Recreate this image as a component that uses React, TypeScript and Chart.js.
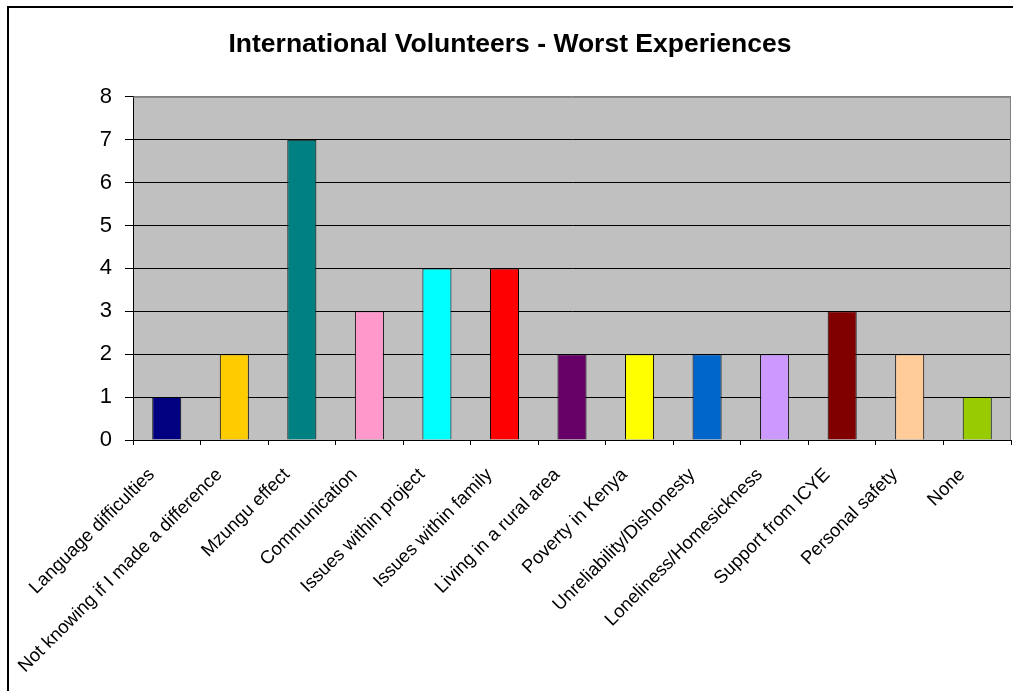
import { useEffect, useRef } from "react";
import { Chart, registerables } from "chart.js";
Chart.register(...registerables);

const categories = [
  "Language difficulties",
  "Not knowing if I made a difference",
  "Mzungu effect",
  "Communication",
  "Issues within project",
  "Issues within family",
  "Living in a rural area",
  "Poverty in Kenya",
  "Unreliability/Dishonesty",
  "Loneliness/Homesickness",
  "Support from ICYE",
  "Personal safety",
  "None",
];
const values = [1, 2, 7, 3, 4, 4, 2, 2, 2, 2, 3, 2, 1];
const barColors = [
  "#000080", "#FFCC00", "#008080", "#FF99CC", "#00FFFF", "#FF0000", "#660066",
  "#FFFF00", "#0066CC", "#CC99FF", "#800000", "#FFCC99", "#99CC00",
];
const yMin = 0;
const yMax = 8;
const yStep = 1;
const titleText = "International Volunteers - Worst Experiences";

const FONT = "'Liberation Sans', Arial, sans-serif";

export default function App() {
  const ref = useRef<HTMLCanvasElement>(null);
  useEffect(() => {
    if (!ref.current) return;
    const bgPlugin = {
      id: "bgPlugin",
      beforeDraw(chart: any) {
        const { ctx, chartArea: a } = chart;
        ctx.save();
        ctx.fillStyle = "#FFFFFF";
        ctx.fillRect(0, 0, chart.width, chart.height);
        ctx.fillStyle = "#C0C0C0";
        ctx.fillRect(a.left, a.top, a.right - a.left, a.bottom - a.top);
        ctx.fillStyle = "#000000";
        ctx.fillRect(7, 6, 2, chart.height);
        ctx.fillRect(7, 6, chart.width, 2);
        ctx.restore();
      },
      beforeDatasetsDraw(chart: any) {
        const { ctx, chartArea: a } = chart;
        ctx.save();
        ctx.strokeStyle = "#808080";
        ctx.lineWidth = 1;
        ctx.beginPath();
        ctx.moveTo(a.left, a.top + 0.5);
        ctx.lineTo(a.right - 0.5, a.top + 0.5);
        ctx.lineTo(a.right - 0.5, a.bottom);
        ctx.stroke();
        ctx.restore();
      },
    };
    const chart = new Chart(ref.current, {
      type: "bar",
      data: {
        labels: categories,
        datasets: [
          {
            data: values,
            backgroundColor: barColors,
            borderColor: "#000000",
            borderWidth: 1,
            barPercentage: 0.43,
            categoryPercentage: 1,
          },
        ],
      },
      options: {
        animation: false,
        responsive: false,
        maintainAspectRatio: false,
        layout: { padding: { left: 9, right: 2, top: 0, bottom: 0 } },
        plugins: {
          legend: { display: false },
          tooltip: { enabled: false },
          title: {
            display: true,
            text: titleText,
            color: "#000000",
            font: { family: FONT, size: 26.5, weight: "bold" },
            padding: { top: 29, bottom: 36 },
          },
        },
        scales: {
          x: {
            offset: true,
            afterFit(scale: any) {
              scale.height = 251;
            },
            grid: {
              offset: true,
              drawOnChartArea: false,
              drawTicks: true,
              tickLength: 5,
              color: "#000000",
              tickColor: "#000000",
            },
            border: { display: true, color: "#000000", width: 1 },
            ticks: {
              autoSkip: false,
              minRotation: 45,
              maxRotation: 45,
              padding: 19,
              labelOffset: -15,
              color: "#000000",
              font: { family: FONT, size: 18.5 },
            },
          },
          y: {
            min: yMin,
            max: yMax,
            afterFit(scale: any) {
              scale.width = 124;
            },
            grid: {
              color: (c: any) => (c.tick && c.tick.value === yMax ? "#808080" : "#000000"),
              tickColor: "#000000",
              tickLength: 8,
              lineWidth: 1,
            },
            border: { display: true, color: "#000000", width: 1 },
            ticks: {
              stepSize: yStep,
              padding: 13,
              color: "#000000",
              font: { family: FONT, size: 22 },
            },
          },
        },
      },
      plugins: [bgPlugin],
    });
    return () => chart.destroy();
  }, []);
  return (
    <div style={{ position: "absolute", left: 0, top: 0, width: 1013, height: 691 }}>
      <canvas ref={ref} width={1013} height={691} style={{ display: "block", width: 1013, height: 691 }} />
    </div>
  );
}
